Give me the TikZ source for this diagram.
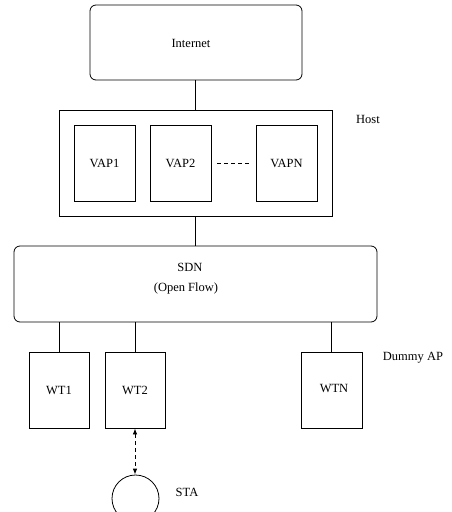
\documentclass[tikz,border=0pt]{standalone}
\usepackage{fontspec}
\setmainfont{Liberation Serif}
\usetikzlibrary{arrows.meta}
\begin{document}
\begin{tikzpicture}[x=1pt,y=-1pt,
  line width=0.8pt,
  every node/.style={font=\fontsize{12.5}{15}\selectfont},
  cloud/.style={draw, rounded corners=6pt, inner sep=0pt},
  box/.style={draw, inner sep=0pt, minimum width=61pt, minimum height=76pt},
  link/.style={draw},
  wireless/.style={draw, dashed, dash pattern=on 4pt off 3pt,
    {Latex[length=6pt,width=4.5pt]}-{Latex[length=6pt,width=4.5pt]}}]
\useasboundingbox (0,0) rectangle (452,512);

% upper part: internet, host with virtual access points
\node[cloud, minimum width=212pt, minimum height=75pt] (inet) at (196,42.5) {};
\node (inettxt) at (191,43) {Internet};
\node[draw, inner sep=0pt, minimum width=273pt, minimum height=106pt] (host) at (195.5,163) {};
\node (hosttxt) at (368,119) {Host};
\node[box] (vap1) at (104.5,163) {VAP1};
\node[box] (vap2) at (180.5,163) {VAP2};
\node[box] (vapn) at (286.5,163) {VAPN};

% controller
\node[cloud, minimum width=363pt, minimum height=76pt] (sdn) at (195.5,284) {};
\node (sdntxt) at (190,267) {SDN};
\node (oftxt) at (186,288) {(Open Flow)};

% termination points and station
\node[box, minimum width=60pt] (wt1) at (59,390) {WT1};
\node[box, minimum width=60pt] (wt2) at (135,390) {WT2};
\node[box] (wtn) at (331.5,390) {};
\node (wtntxt) at (334,388) {WTN};
\node (dummy) at (413,358) {Dummy AP};
\node[draw, circle, inner sep=0pt, minimum size=47pt] (sta) at (135.5,498.5) {};
\node (statxt) at (187,492) {STA};

% connectors
\draw[link] (inet.south -| host.north) -- (host.north);
\draw[link] (host.south) -- (host.south |- sdn.north);
\draw[dashed, dash pattern=on 4pt off 3pt, shorten <=6pt, shorten >=6pt] (vap2.east) -- (vapn.west);
\draw[link] (wt1.north) -- (wt1.north |- sdn.south);
\draw[link] (wt2.north) -- (wt2.north |- sdn.south);
\draw[link] (wtn.north) -- (wtn.north |- sdn.south);
\draw[wireless] (wt2.south) -- (wt2.south |- sta.north);
\end{tikzpicture}
\end{document}
